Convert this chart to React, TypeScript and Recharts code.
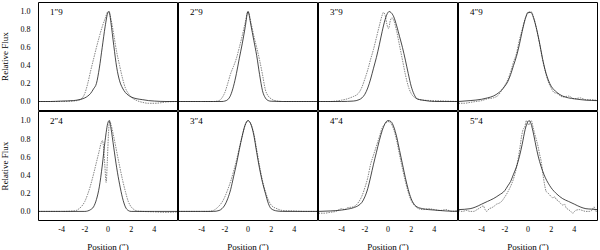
import { LineChart, Line, XAxis, YAxis } from 'recharts';

type Pt = [number, number];

const panelLabels = ['1″9', '2″9', '3″9', '4″9', '2″4', '3″4', '4″4', '5″4'];
const xTicks = [-4, -2, 0, 2, 4];
const yTicks = [0, 0.2, 0.4, 0.6, 0.8, 1.0];

// solid = model profile, dashed = observed profile, [position, flux]
const model19: Pt[] = [[-6, 0], [-5, 0], [-4, 0.005], [-3, 0.01], [-2.5, 0.02], [-2, 0.04], [-1.75, 0.06], [-1.5, 0.09], [-1.25, 0.14], [-1, 0.2], [-0.75, 0.37], [-0.5, 0.6], [-0.25, 0.83], [0, 0.99], [0.1, 1.0], [0.25, 0.88], [0.5, 0.62], [0.75, 0.38], [1, 0.23], [1.25, 0.15], [1.5, 0.1], [1.75, 0.07], [2, 0.05], [2.5, 0.03], [3, 0.02], [3.5, 0.01], [4, 0.005], [5, 0], [6, 0]];
const obs19: Pt[] = [[-6, 0], [-5, 0], [-4, 0], [-3, 0.005], [-2.5, 0.015], [-2.25, 0.035], [-2, 0.09], [-1.75, 0.2], [-1.5, 0.34], [-1.25, 0.47], [-1, 0.6], [-0.75, 0.72], [-0.5, 0.83], [-0.25, 0.92], [0, 1.0], [0.25, 0.92], [0.5, 0.74], [0.75, 0.55], [1, 0.4], [1.25, 0.26], [1.5, 0.15], [1.75, 0.09], [2, 0.05], [2.5, 0.01], [3, -0.01], [3.5, -0.02], [4, -0.02], [4.5, -0.015], [5, -0.005], [6, 0]];

const model29: Pt[] = [[-6, 0], [-4, 0], [-3, 0], [-2.25, 0], [-2, 0.005], [-1.75, 0.02], [-1.5, 0.07], [-1.25, 0.17], [-1, 0.31], [-0.75, 0.48], [-0.5, 0.64], [-0.25, 0.82], [0, 1.0], [0.25, 0.85], [0.5, 0.68], [0.75, 0.51], [1, 0.3], [1.25, 0.12], [1.5, 0.04], [1.75, 0.01], [2, 0.003], [3, 0], [6, 0]];
const obs29: Pt[] = [[-6, 0], [-4, 0], [-3, 0], [-2.5, 0.01], [-2.25, 0.04], [-2, 0.1], [-1.75, 0.2], [-1.5, 0.31], [-1.25, 0.39], [-1, 0.48], [-0.75, 0.6], [-0.5, 0.73], [-0.25, 0.87], [0, 1.0], [0.25, 0.88], [0.5, 0.73], [0.75, 0.6], [1, 0.46], [1.25, 0.3], [1.5, 0.13], [1.75, 0.06], [2, 0.03], [2.5, 0.005], [3, 0], [6, 0]];

const model39: Pt[] = [[-6, 0], [-4, 0], [-3, 0.005], [-2.5, 0.02], [-2.25, 0.04], [-2, 0.08], [-1.75, 0.15], [-1.5, 0.25], [-1.25, 0.37], [-1, 0.49], [-0.75, 0.63], [-0.5, 0.78], [-0.25, 0.91], [0, 0.99], [0.1, 1.0], [0.25, 0.99], [0.5, 0.94], [0.75, 0.84], [1, 0.72], [1.25, 0.6], [1.5, 0.46], [1.75, 0.31], [2, 0.17], [2.25, 0.08], [2.5, 0.03], [3, 0.015], [3.5, 0.005], [4, 0], [6, 0]];
const obs39: Pt[] = [[-6, 0], [-5, 0], [-4.5, 0.005], [-4, 0.015], [-3.5, 0.03], [-3, 0.055], [-2.75, 0.07], [-2.5, 0.1], [-2.25, 0.16], [-2, 0.25], [-1.75, 0.35], [-1.5, 0.47], [-1.25, 0.58], [-1, 0.71], [-0.75, 0.84], [-0.5, 0.96], [-0.4, 0.99], [-0.25, 0.96], [-0.1, 0.86], [0.05, 0.81], [0.2, 0.9], [0.35, 0.93], [0.5, 0.9], [0.75, 0.78], [1, 0.62], [1.25, 0.46], [1.5, 0.3], [1.75, 0.17], [2, 0.09], [2.5, 0.03], [3, 0.015], [4, 0.01], [5, 0.005], [6, 0]];

const model49: Pt[] = [[-6, 0], [-5, 0.01], [-4, 0.025], [-3.5, 0.04], [-3, 0.06], [-2.5, 0.1], [-2.25, 0.13], [-2, 0.17], [-1.75, 0.22], [-1.5, 0.3], [-1.25, 0.4], [-1, 0.5], [-0.75, 0.63], [-0.5, 0.78], [-0.25, 0.91], [0, 0.99], [0.25, 0.99], [0.5, 0.92], [0.75, 0.8], [1, 0.65], [1.25, 0.48], [1.5, 0.34], [1.75, 0.24], [2, 0.17], [2.25, 0.13], [2.5, 0.1], [3, 0.06], [3.5, 0.04], [4, 0.03], [5, 0.015], [6, 0.01]];
const obs49: Pt[] = [[-6, -0.02], [-5.5, -0.02], [-5, -0.01], [-4.5, 0], [-4, 0.01], [-3.5, 0.03], [-3, 0.04], [-2.5, 0.08], [-2.25, 0.13], [-2, 0.18], [-1.75, 0.24], [-1.5, 0.33], [-1.25, 0.44], [-1, 0.53], [-0.75, 0.68], [-0.5, 0.8], [-0.25, 0.92], [0, 0.98], [0.25, 1.0], [0.5, 0.93], [0.75, 0.8], [1, 0.64], [1.25, 0.47], [1.5, 0.33], [1.75, 0.22], [2, 0.15], [2.25, 0.1], [2.5, 0.09], [3, 0.05], [3.5, 0.06], [4, 0.03], [4.5, 0.04], [5, 0.02], [5.5, 0.02], [6, 0.01]];

const model24: Pt[] = [[-6, 0], [-4, 0], [-2, 0], [-1.75, 0.005], [-1.5, 0.02], [-1.25, 0.05], [-1, 0.13], [-0.75, 0.27], [-0.5, 0.5], [-0.25, 0.78], [0, 0.98], [0.1, 1.0], [0.25, 0.92], [0.5, 0.7], [0.75, 0.48], [1, 0.3], [1.25, 0.15], [1.5, 0.05], [1.75, 0.01], [2, 0], [4, 0], [6, 0]];
const obs24: Pt[] = [[-6, 0], [-4, 0], [-3, 0.005], [-2.75, 0.01], [-2.5, 0.03], [-2.25, 0.06], [-2, 0.11], [-1.75, 0.19], [-1.5, 0.29], [-1.25, 0.41], [-1, 0.54], [-0.75, 0.67], [-0.6, 0.75], [-0.48, 0.78], [-0.38, 0.7], [-0.27, 0.5], [-0.16, 0.32], [-0.06, 0.55], [0.04, 0.85], [0.14, 1.0], [0.25, 0.96], [0.5, 0.82], [0.75, 0.66], [1, 0.5], [1.25, 0.35], [1.5, 0.22], [1.75, 0.11], [2, 0.05], [2.25, 0.02], [2.5, 0.005], [3, 0], [4, -0.005], [5, -0.01], [6, -0.005]];

const model34: Pt[] = [[-6, 0], [-4, 0], [-3, 0], [-2.5, 0.01], [-2.25, 0.03], [-2, 0.07], [-1.75, 0.14], [-1.5, 0.24], [-1.25, 0.38], [-1, 0.52], [-0.75, 0.68], [-0.5, 0.83], [-0.25, 0.95], [0, 1.0], [0.25, 0.96], [0.5, 0.84], [0.75, 0.65], [1, 0.47], [1.25, 0.32], [1.5, 0.2], [1.75, 0.09], [2, 0.03], [2.5, 0.005], [3, 0], [6, 0]];
const obs34: Pt[] = [[-6, 0], [-4, 0], [-3.5, 0], [-3, 0.01], [-2.75, 0.03], [-2.5, 0.06], [-2.25, 0.1], [-2, 0.16], [-1.75, 0.24], [-1.5, 0.33], [-1.25, 0.44], [-1, 0.56], [-0.75, 0.7], [-0.5, 0.83], [-0.25, 0.95], [0, 1.0], [0.25, 0.96], [0.5, 0.86], [0.75, 0.68], [1, 0.5], [1.25, 0.34], [1.5, 0.22], [1.75, 0.13], [2, 0.07], [2.5, 0.03], [3, 0.01], [4, 0.005], [5, 0], [6, 0]];

const model44: Pt[] = [[-6, 0], [-5, 0.005], [-4, 0.015], [-3.5, 0.025], [-3, 0.04], [-2.5, 0.07], [-2.25, 0.1], [-2, 0.16], [-1.75, 0.25], [-1.5, 0.38], [-1.25, 0.52], [-1, 0.65], [-0.75, 0.78], [-0.5, 0.89], [-0.25, 0.97], [0, 1.0], [0.25, 0.99], [0.5, 0.93], [0.75, 0.82], [1, 0.67], [1.25, 0.52], [1.5, 0.37], [1.75, 0.24], [2, 0.14], [2.25, 0.08], [2.5, 0.05], [3, 0.03], [3.5, 0.02], [4, 0.015], [5, 0.005], [6, 0]];
const obs44: Pt[] = [[-6, -0.02], [-5.5, -0.02], [-5, -0.01], [-4.5, 0], [-4, 0.03], [-3.75, 0.02], [-3.5, 0.04], [-3, 0.05], [-2.75, 0.07], [-2.5, 0.11], [-2.25, 0.17], [-2, 0.26], [-1.75, 0.37], [-1.5, 0.52], [-1.25, 0.62], [-1, 0.72], [-0.75, 0.82], [-0.5, 0.92], [-0.25, 0.96], [0, 0.99], [0.25, 0.97], [0.5, 0.9], [0.75, 0.78], [1, 0.62], [1.25, 0.47], [1.5, 0.33], [1.75, 0.21], [2, 0.12], [2.25, 0.07], [2.5, 0.04], [3, 0.02], [3.5, 0.03], [4, 0.02], [4.5, 0.01], [5, 0.02], [5.5, 0], [6, 0.01]];

const model54: Pt[] = [[-6, 0.02], [-5, 0.03], [-4.5, 0.05], [-4, 0.08], [-3.5, 0.11], [-3, 0.14], [-2.5, 0.18], [-2, 0.23], [-1.75, 0.28], [-1.5, 0.33], [-1.25, 0.41], [-1, 0.49], [-0.75, 0.6], [-0.5, 0.74], [-0.25, 0.9], [0, 0.99], [0.1, 1.0], [0.25, 0.97], [0.5, 0.84], [0.75, 0.68], [1, 0.55], [1.25, 0.45], [1.5, 0.37], [1.75, 0.31], [2, 0.26], [2.5, 0.19], [3, 0.14], [3.5, 0.11], [4, 0.08], [4.5, 0.05], [5, 0.03], [5.5, 0.025], [6, 0.02]];
const obs54: Pt[] = [[-6, 0.01], [-5.7, 0], [-5.3, 0.01], [-5, 0], [-4.7, 0], [-4.4, 0.02], [-4.14, 0.04], [-3.86, 0.06], [-3.7, 0.02], [-3.57, 0], [-3.35, 0.03], [-3.14, 0.04], [-2.9, 0.06], [-2.71, 0.08], [-2.5, 0.09], [-2.28, 0.11], [-2.05, 0.15], [-1.85, 0.19], [-1.6, 0.25], [-1.42, 0.3], [-1.2, 0.38], [-1, 0.48], [-0.85, 0.58], [-0.7, 0.7], [-0.55, 0.83], [-0.43, 0.9], [-0.28, 0.93], [-0.14, 1.0], [0.06, 0.95], [0.18, 0.99], [0.29, 1.0], [0.43, 0.93], [0.57, 0.86], [0.72, 0.79], [0.86, 0.72], [1, 0.63], [1.14, 0.55], [1.3, 0.4], [1.45, 0.28], [1.57, 0.22], [1.75, 0.2], [1.95, 0.17], [2.14, 0.15], [2.3, 0.16], [2.45, 0.13], [2.6, 0.12], [2.8, 0.09], [3, 0.07], [3.15, 0.08], [3.29, 0.04], [3.5, 0.02], [3.7, 0], [3.86, -0.02], [4.1, 0.01], [4.43, 0.02], [4.7, 0.01], [5, 0], [5.29, 0], [5.5, 0.01], [5.71, 0.05], [5.85, 0], [6, 0.01]];

const models = [model19, model29, model39, model49, model24, model34, model44, model54];
const observed = [obs19, obs29, obs39, obs49, obs24, obs34, obs44, obs54];

const FONT = '"Liberation Serif", "Times New Roman", serif';
const frame = { stroke: '#000', strokeWidth: 1 };
const toRows = (pts: Pt[]) => pts.map(([x, y]) => ({ x, y }));

function Panel({ index }: { index: number }) {
  const col = index % 4;
  const row = Math.floor(index / 4);
  const showY = col === 0;
  const showX = row === 1;

  const plotW = 139;
  const plotH = row === 0 ? 108 : 109;
  const lineLeft = 38.5 + 140 * col;
  const lineTop = row === 0 ? 2.5 : 111.5;
  const m = 2.5;
  const yW = showY ? 36 : 0;
  const xH = showX ? 30 : 0;

  const width = yW + plotW + 2 * m;
  const height = plotH + xH + 2 * m;
  const left = lineLeft - m - yW;
  const top = lineTop - m;

  return (
    <>
      <div style={{ position: 'absolute', left, top, width, height }}>
        <LineChart width={width} height={height} margin={{ top: m, right: m, bottom: m, left: m }}>
          {/* frame with inward ticks */}
          <XAxis xAxisId="b" type="number" dataKey="x" domain={[-6, 6]} ticks={xTicks} allowDataOverflow
            orientation="bottom" mirror height={1} tick={false} tickSize={4} axisLine={frame} tickLine={frame} />
          <XAxis xAxisId="t" type="number" dataKey="x" domain={[-6, 6]} ticks={xTicks} allowDataOverflow
            orientation="top" mirror height={1} tick={false} tickSize={4} axisLine={frame} tickLine={frame} />
          <YAxis yAxisId="l" type="number" domain={[-0.1, 1.1]} ticks={yTicks} allowDataOverflow
            orientation="left" mirror width={1} tick={false} tickSize={4} axisLine={frame} tickLine={frame} />
          <YAxis yAxisId="r" type="number" domain={[-0.1, 1.1]} ticks={yTicks} allowDataOverflow
            orientation="right" mirror width={1} tick={false} tickSize={4} axisLine={frame} tickLine={frame} />

          {showX && (
            <XAxis xAxisId="xl" type="number" dataKey="x" domain={[-6, 6]} ticks={xTicks} allowDataOverflow
              interval={0} orientation="bottom" height={xH} axisLine={false} tickLine={false} tickSize={0} tickMargin={6}
              tick={{ fill: '#000', fontSize: 8, fontFamily: FONT }}
              label={{ value: 'Position (″)', position: 'insideBottom', offset: 1, fill: '#000', fontSize: 9, fontFamily: FONT }} />
          )}
          {showY && (
            <YAxis yAxisId="yl" type="number" domain={[-0.1, 1.1]} ticks={yTicks} allowDataOverflow
              interval={0} orientation="left" width={yW} axisLine={false} tickLine={false} tickSize={0} tickMargin={8}
              tickFormatter={(v: number) => v.toFixed(1)}
              tick={{ fill: '#000', fontSize: 8, fontFamily: FONT }}
              label={{ value: 'Relative Flux', angle: -90, position: 'insideLeft', offset: 2, fill: '#000', fontSize: 9, fontFamily: FONT, style: { textAnchor: 'middle' } }} />
          )}

          <Line xAxisId="b" yAxisId="l" data={toRows(observed[index])} dataKey="y" type="monotone"
            stroke="#666" strokeWidth={0.8} strokeDasharray="1.5 1" dot={false} activeDot={false} isAnimationActive={false} />
          <Line xAxisId="b" yAxisId="l" data={toRows(models[index])} dataKey="y" type="monotone"
            stroke="#1a1a1a" strokeWidth={0.8} dot={false} activeDot={false} isAnimationActive={false} />
          {showX && (
            <Line xAxisId="xl" yAxisId="l" data={toRows(models[index])} dataKey="y" type="monotone"
              stroke="none" dot={false} activeDot={false} isAnimationActive={false} />
          )}
        </LineChart>
      </div>
      <svg style={{ position: 'absolute', left: lineLeft + 8, top: lineTop + 2, overflow: 'visible' }} width={30} height={14}>
        <text x={3} y={9.5} fontFamily={FONT} fontSize={9} fill="#000">
          {panelLabels[index]}
        </text>
      </svg>
    </>
  );
}

export default function App() {
  return (
    <div style={{ position: 'absolute', left: 0, top: 0, width: 600, height: 250, overflow: 'hidden', background: '#fff' }}>
      {panelLabels.map((_, i) => (
        <Panel key={i} index={i} />
      ))}
    </div>
  );
}
